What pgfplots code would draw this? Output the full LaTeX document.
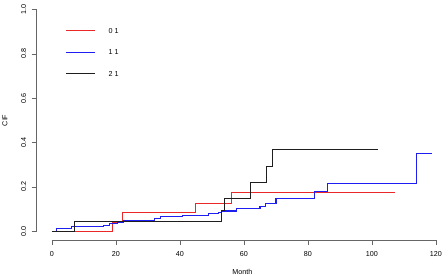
\documentclass[border=0pt]{standalone}
\usepackage{fontspec}
\setmainfont{Liberation Sans}
\usepackage{pgfplots}
\pgfplotsset{compat=1.18}
\definecolor{axgray}{gray}{0.4}
\definecolor{cred}{RGB}{235,40,40}
\definecolor{cblue}{RGB}{30,30,240}
\definecolor{cblack}{RGB}{30,30,30}
\begin{document}
\fontsize{7.2}{8.6}\selectfont
\begin{tikzpicture}
\useasboundingbox (0,0) rectangle (448bp,275bp);
\begin{axis}[
  at={(36.7bp,35bp)}, anchor=south west,
  scale only axis, width=411.3bp, height=239.2bp,
  xmin=-4.76, xmax=123.76, ymin=-0.04, ymax=1.04,
  axis lines=left, axis line style={draw=none},
  clip=false,
  tick align=outside, major tick length=5bp,
  tick style={axgray, line width=0.6pt},
  xtick={0,20,40,60,80,100,120},
  xticklabels={0,20,40,60,80,100,120},
  ytick={0,0.2,0.4,0.6,0.8,1.0},
  yticklabels={0.0,0.2,0.4,0.6,0.8,1.0},
  xticklabel style={anchor=center, font=\fontsize{7.2}{8.6}\selectfont},
  yticklabel style={rotate=90, anchor=center, font=\fontsize{7.2}{8.6}\selectfont},
  every x tick label/.append style={yshift=-9.3bp},
  every y tick label/.append style={yshift=8bp},
  xlabel={Month}, ylabel={CIF},
  xlabel style={at={(axis description cs:0.5,-0.1325)}, anchor=center, font=\fontsize{7.2}{8.6}\selectfont},
  ylabel style={at={(axis description cs:-0.0771,0.5)}, anchor=center, rotate=0, font=\fontsize{7.2}{8.6}\selectfont},
]
\draw[axgray, line width=0.6pt] (axis cs:0,-0.04) -- (axis cs:120,-0.04);
\draw[axgray, line width=0.6pt] (axis cs:-4.76,0) -- (axis cs:-4.76,1);
\addplot[const plot mark left, color=cred, line width=1.1pt] coordinates {
 (0,0) (19,0.041) (22,0.086) (45,0.126) (56,0.175) (107.1,0.175)};
\addplot[const plot mark left, color=cblue, line width=1.1pt] coordinates {
 (0,0) (1.5,0.0135) (6.0,0.020) (16,0.025) (18,0.033) (20.5,0.039) (22.5,0.049)
 (32.1,0.057) (34,0.065) (40.9,0.072) (48.9,0.079) (52,0.086) (53,0.091)
 (57.8,0.104) (65,0.112) (66.8,0.125) (70,0.146) (82,0.179) (86,0.216)
 (113.9,0.349) (118.9,0.349)};
\addplot[const plot mark left, color=cblack, line width=1.1pt] coordinates {
 (0,0) (7,0.044) (52.9,0.092) (53.9,0.147) (62,0.218) (67,0.29) (68.9,0.369) (102,0.369)};
% legend (R style, no box)
\draw[cred, line width=1.1pt] (axis cs:4.47,0.9054) -- (axis cs:13.31,0.9054);
\node[anchor=west, inner sep=0pt] at (axis cs:17.69,0.9054) {0 1};
\draw[cblue, line width=1.1pt] (axis cs:4.47,0.8081) -- (axis cs:13.31,0.8081);
\node[anchor=west, inner sep=0pt] at (axis cs:17.69,0.8081) {1 1};
\draw[cblack, line width=1.1pt] (axis cs:4.47,0.7104) -- (axis cs:13.31,0.7104);
\node[anchor=west, inner sep=0pt] at (axis cs:17.69,0.7104) {2 1};
\end{axis}
\end{tikzpicture}
\end{document}
